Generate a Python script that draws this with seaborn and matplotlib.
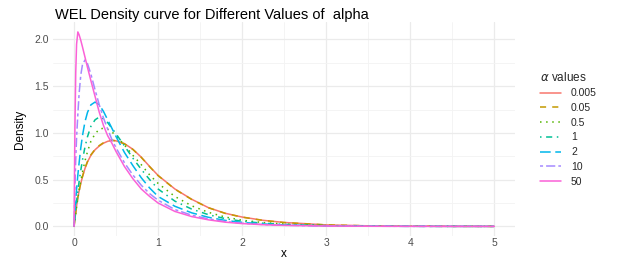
import numpy as np
import pandas as pd
import matplotlib
matplotlib.use("Agg")
import matplotlib.pyplot as plt
import seaborn as sns

# ---- data ----
x_vals = [0, 0.01, 0.02, 0.03, 0.045, 0.06, 0.08, 0.1, 0.13, 0.16, 0.2, 0.25, 0.3,
          0.35, 0.4, 0.45, 0.5, 0.6, 0.7, 0.8, 0.9, 1.0, 1.2, 1.4, 1.6, 1.8, 2.0,
          2.25, 2.5, 3.0, 3.5, 4.0, 4.5, 5.0]

alpha_labels = ["0.005", "0.05", "0.5", "1", "2", "10", "50"]

dens_0005 = [0, 0.08, 0.15, 0.22, 0.31, 0.38, 0.46, 0.53, 0.62, 0.69, 0.76, 0.82, 0.86,
             0.89, 0.91, 0.92, 0.915, 0.885, 0.825, 0.74, 0.64, 0.545, 0.40, 0.29, 0.20, 0.14, 0.10,
             0.065, 0.042, 0.016, 0.006, 0.0022, 0.0008, 0.0003]
dens_005 = [0, 0.08, 0.15, 0.22, 0.31, 0.385, 0.465, 0.535, 0.625, 0.695, 0.765, 0.825, 0.865,
            0.895, 0.915, 0.922, 0.915, 0.883, 0.823, 0.738, 0.638, 0.543, 0.398, 0.288, 0.199, 0.139, 0.099,
            0.064, 0.041, 0.016, 0.006, 0.0022, 0.0008, 0.0003]
dens_05 = [0, 0.07, 0.14, 0.21, 0.30, 0.38, 0.48, 0.58, 0.70, 0.80, 0.91, 0.99, 1.04,
           1.05, 1.04, 1.01, 0.97, 0.87, 0.76, 0.66, 0.55, 0.46, 0.32, 0.22, 0.15, 0.10, 0.066,
           0.041, 0.025, 0.009, 0.0035, 0.0013, 0.0005, 0.0002]
dens_1 = [0, 0.10, 0.19, 0.27, 0.38, 0.48, 0.60, 0.71, 0.85, 0.96, 1.07, 1.14, 1.17,
          1.15, 1.11, 1.05, 0.99, 0.86, 0.73, 0.61, 0.50, 0.40, 0.27, 0.185, 0.125, 0.083, 0.055,
          0.034, 0.021, 0.008, 0.003, 0.001, 0.0004, 0.0001]
dens_2 = [0, 0.15, 0.28, 0.40, 0.55, 0.68, 0.84, 0.97, 1.12, 1.22, 1.30, 1.33, 1.30,
          1.23, 1.14, 1.05, 0.96, 0.79, 0.65, 0.52, 0.41, 0.32, 0.215, 0.145, 0.097, 0.064, 0.043,
          0.026, 0.016, 0.006, 0.0022, 0.0008, 0.0003, 0.0001]
dens_10 = [0, 0.40, 0.72, 0.95, 1.20, 1.42, 1.62, 1.73, 1.78, 1.74, 1.63, 1.46, 1.30,
           1.16, 1.04, 0.93, 0.84, 0.68, 0.55, 0.44, 0.35, 0.28, 0.18, 0.12, 0.08, 0.052, 0.034,
           0.02, 0.012, 0.0045, 0.0017, 0.0006, 0.0002, 0.0001]
dens_50 = [0, 1.05, 1.65, 1.95, 2.08, 2.05, 1.99, 1.92, 1.81, 1.70, 1.56, 1.39, 1.22,
           1.08, 0.97, 0.89, 0.80, 0.64, 0.51, 0.40, 0.32, 0.25, 0.16, 0.105, 0.07, 0.045, 0.03,
           0.018, 0.011, 0.004, 0.0015, 0.0005, 0.0002, 0.0001]

series = [dens_0005, dens_005, dens_05, dens_1, dens_2, dens_10, dens_50]

colors = ["#F8766D", "#C49A00", "#53B400", "#00C094", "#00B6EB", "#A58AFF", "#FB61D7"]
dash_specs = ["", (4, 4), (1, 3), (1, 3, 4, 3), (7, 3), (2, 2, 6, 2), ""]

frames = []
for lab, ys in zip(alpha_labels, series):
    frames.append(pd.DataFrame({"x": x_vals, "Density": ys, "alpha": lab}))
df = pd.concat(frames, ignore_index=True)

# ---- figure ----
sns.set_theme(style="whitegrid")
plt.rcParams["font.family"] = ["Liberation Sans", "DejaVu Sans"]

fig = plt.figure(figsize=(6.17, 2.61), dpi=100)
ax = fig.add_axes([0.086, 0.095, 0.749, 0.822])

sns.lineplot(data=df, x="x", y="Density", hue="alpha", style="alpha",
             hue_order=alpha_labels, style_order=alpha_labels,
             palette=dict(zip(alpha_labels, colors)),
             dashes=dict(zip(alpha_labels, dash_specs)),
             linewidth=1.1, ax=ax, sort=False)

ax.set_xlim(-0.25, 5.25)
ax.set_ylim(-0.105, 2.19)
ax.set_xticks([0, 1, 2, 3, 4, 5])
ax.set_yticks([0.0, 0.5, 1.0, 1.5, 2.0])
ax.set_yticklabels(["0.0", "0.5", "1.0", "1.5", "2.0"])
ax.set_xticks(np.arange(0.5, 5, 1), minor=True)
ax.set_yticks(np.arange(0.25, 2.2, 0.5), minor=True)
ax.grid(which="major", color="#EBEBEB", linewidth=0.9)
ax.grid(which="minor", color="#F3F3F3", linewidth=0.6)
ax.set_facecolor("white")
for s in ax.spines.values():
    s.set_visible(False)
ax.tick_params(axis="both", which="both", length=0, labelsize=7.5,
               labelcolor="#4D4D4D")
ax.tick_params(axis="x", pad=1)
ax.tick_params(axis="y", pad=3)
ax.set_xlabel("x", fontsize=8.5, color="black", labelpad=0)
ax.set_ylabel("Density", fontsize=8.5, color="black", labelpad=6)

ax.set_title("WEL Density curve for Different Values of  alpha", loc="left",
             fontsize=10.5, color="black", x=0.004, pad=2)

leg = ax.legend(title=r"$\alpha$ values", loc="upper left",
                bbox_to_anchor=(0.868, 0.745), bbox_transform=fig.transFigure,
                frameon=False, fontsize=7.5, title_fontsize=8.5,
                handlelength=2.0, labelspacing=0.45, handletextpad=1.0,
                borderaxespad=0)
leg._legend_box.align = "left"

fig.savefig("out.png", dpi=100)
